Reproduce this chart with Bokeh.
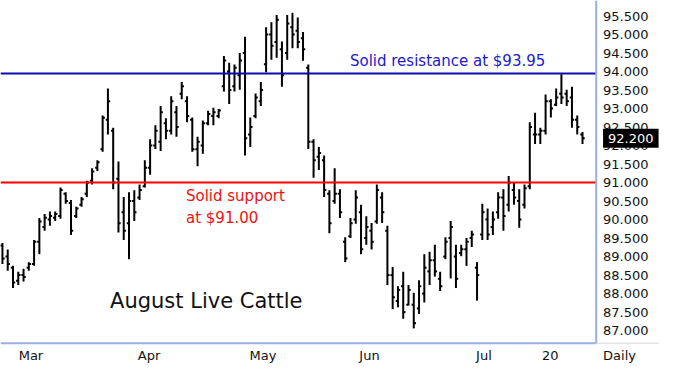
from bokeh.plotting import figure
from bokeh.models import Label, Range1d, ColumnDataSource
from bokeh.core.properties import value
from bokeh.embed import file_html
from bokeh.resources import INLINE
import numpy as np

# ---- data (August Live Cattle, daily OHLC) ----
opens = [89.30, 89.00, 88.70, 88.35, 88.50, 88.70, 88.80, 89.40, 89.80, 90.00,
         90.05, 90.10, 90.70, 90.45, 90.10, 90.40, 90.70, 91.05, 91.40, 91.90,
         92.70, 92.40, 91.10, 90.20, 89.90, 90.50, 90.60, 90.90, 91.40, 92.00,
         92.10, 92.60, 92.40, 92.90, 93.40, 93.20, 92.70, 91.90, 92.00, 92.60,
         92.80, 92.80, 93.60, 94.00, 93.60, 93.90, 94.50, 92.30, 92.80, 93.20,
         94.20, 95.00, 94.80, 94.60, 94.50, 95.20, 95.10, 94.90, 94.10, 92.10,
         91.70, 91.60, 90.70, 90.50, 90.70, 89.40, 89.55, 90.00, 90.20, 89.50,
         89.70, 89.95, 90.60, 89.70, 88.50, 87.80, 88.20, 87.70, 87.70, 87.60,
         88.00, 88.60, 88.90, 88.40, 89.00, 89.50, 89.00, 89.10, 89.20, 89.50,
         88.70, 89.60, 90.00, 89.80, 90.20, 90.60, 90.40, 90.80, 90.50, 90.40,
         90.90, 92.30, 92.30, 92.40, 93.20, 93.10, 93.40, 93.40, 93.30, 92.70,
         92.30]
highs = [89.37, 89.19, 88.75, 88.59, 88.67, 88.85, 89.45, 90.04, 90.15, 90.22,
         90.22, 90.87, 90.74, 90.53, 90.35, 90.61, 91.05, 91.39, 91.60, 92.81,
         93.54, 92.48, 91.57, 90.61, 90.74, 90.79, 90.95, 91.60, 92.17, 92.55,
         93.07, 92.74, 93.33, 93.07, 93.72, 93.33, 92.76, 92.24, 92.68, 92.94,
         93.02, 92.99, 94.42, 94.24, 94.19, 94.50, 94.94, 92.76, 93.41, 93.72,
         95.20, 95.33, 95.53, 94.81, 95.53, 95.59, 95.46, 95.07, 94.19, 92.17,
         91.96, 91.73, 90.79, 91.39, 90.82, 89.52, 90.04, 90.79, 90.40, 90.09,
         89.91, 90.95, 90.74, 89.83, 88.72, 88.20, 88.59, 88.23, 88.02, 88.36,
         89.06, 89.13, 89.32, 88.59, 89.52, 89.96, 89.32, 89.32, 89.50, 89.70,
         88.85, 90.43, 90.30, 90.22, 90.74, 90.82, 91.18, 91.00, 90.82, 90.95,
         92.63, 92.89, 92.48, 93.38, 93.25, 93.54, 93.93, 93.51, 93.59, 92.81,
         92.37]
lows = [88.80, 88.62, 88.15, 88.23, 88.33, 88.62, 88.75, 89.06, 89.70, 89.83,
        89.96, 90.02, 90.43, 89.58, 90.04, 90.35, 90.61, 90.95, 91.31, 91.83,
        92.30, 90.82, 89.65, 89.45, 88.93, 89.96, 90.53, 90.87, 91.21, 91.91,
        91.85, 92.17, 92.30, 92.24, 93.25, 92.63, 91.83, 91.44, 91.78, 92.55,
        92.55, 92.74, 93.46, 93.12, 93.46, 93.51, 91.73, 91.96, 92.74, 93.07,
        93.98, 94.32, 94.37, 93.59, 94.32, 94.63, 94.63, 94.29, 91.91, 91.13,
        91.34, 90.61, 89.63, 90.43, 90.04, 88.85, 89.50, 89.89, 89.06, 89.32,
        89.19, 89.89, 89.91, 88.23, 87.58, 87.63, 87.32, 87.68, 87.06, 87.45,
        87.76, 88.23, 88.46, 88.07, 88.93, 88.41, 88.15, 89.01, 88.75, 89.26,
        87.81, 89.45, 89.45, 89.58, 90.02, 89.70, 90.22, 90.40, 89.78, 90.30,
        90.82, 92.04, 92.04, 92.30, 92.76, 93.07, 93.12, 93.07, 92.48, 92.30,
        92.04]
closes = [88.95, 88.80, 88.30, 88.50, 88.45, 88.80, 89.40, 89.95, 90.05, 90.10,
          90.15, 90.80, 90.50, 89.70, 90.30, 90.55, 91.00, 91.30, 91.55, 92.75,
          93.20, 91.00, 89.90, 89.70, 90.50, 90.20, 90.80, 91.40, 92.00, 92.40,
          92.90, 92.40, 93.20, 92.50, 93.60, 92.80, 91.90, 92.10, 92.60, 92.85,
          92.90, 92.95, 94.30, 93.50, 94.10, 94.30, 92.20, 92.50, 93.30, 93.50,
          95.00, 94.70, 95.40, 93.90, 95.30, 95.00, 94.80, 94.60, 92.10, 91.60,
          91.80, 90.80, 89.90, 90.70, 90.20, 88.95, 89.90, 90.60, 89.20, 89.80,
          89.40, 90.80, 90.20, 88.50, 87.90, 88.10, 87.50, 88.10, 87.20, 88.20,
          88.70, 88.90, 88.60, 88.20, 89.40, 89.80, 88.40, 89.20, 89.40, 89.60,
          88.50, 90.20, 89.60, 90.00, 90.60, 90.10, 91.00, 90.60, 90.00, 90.85,
          92.50, 92.30, 92.40, 93.20, 93.00, 93.30, 93.30, 93.20, 92.70, 92.50,
          92.20]

month_ticks = [5.4, 27.8, 49.4, 69.6, 91.3, 103.9]
month_labels = ["Mar", "Apr", "May", "Jun", "Jul", "20"]
price_ticks = [87.0, 87.5, 88.0, 88.5, 89.0, 89.5, 90.0, 90.5, 91.0, 91.5,
               92.0, 92.5, 93.0, 93.5, 94.0, 94.5, 95.0, 95.5]
resistance = 93.95
support = 91.00
last_price = 92.20
period_label = "Daily"

FONT = "DejaVu Sans"
AXIS_BLUE = "#9aaee6"
TEXT = "#111111"

# layout constants (x in bar-index units, y in price units)
X_LO, X_HI = -0.37, 124.6      # whole canvas incl. price scale area
AXIS_X = 112.6                 # price-scale line
LABEL_X = 113.9                # left edge of price labels
Y_LO, Y_HI = 86.03, 95.92      # whole canvas incl. date strip
AXIS_Y = 86.66                 # date-scale line
DATE_Y = 86.34                 # date label centre

x = np.arange(len(opens))
src = ColumnDataSource(dict(x=x, xl=x - 0.42, xr=x + 0.42,
                            o=opens, h=highs, l=lows, c=closes))

p = figure(width=659, height=366,
           x_range=Range1d(X_LO, X_HI), y_range=Range1d(Y_LO, Y_HI),
           output_backend="svg", toolbar_location=None,
           min_border=0, x_axis_location=None, y_axis_location=None)
p.background_fill_color = "white"
p.border_fill_color = "white"
p.outline_line_color = None
p.xgrid.visible = False
p.ygrid.visible = False

# OHLC bars
p.segment("x", "l", "x", "h", source=src, line_color="black", line_width=2)
p.segment("xl", "o", "x", "o", source=src, line_color="black", line_width=2)
p.segment("x", "c", "xr", "c", source=src, line_color="black", line_width=2)

# support / resistance lines (end at price scale)
p.segment(x0=[X_LO], y0=[resistance], x1=[AXIS_X], y1=[resistance],
          line_color="#0a0ab4", line_width=2)
p.segment(x0=[X_LO], y0=[support], x1=[AXIS_X], y1=[support],
          line_color="#ff0000", line_width=2)

# scale lines
p.segment(x0=[AXIS_X], y0=[AXIS_Y], x1=[AXIS_X], y1=[Y_HI], line_color=AXIS_BLUE, line_width=2)
p.segment(x0=[X_LO], y0=[AXIS_Y], x1=[AXIS_X], y1=[AXIS_Y], line_color=AXIS_BLUE, line_width=2)
p.segment(x0=[AXIS_X], y0=[AXIS_Y], x1=[X_HI], y1=[AXIS_Y], line_color="#d6d6d6", line_width=1)

# price scale labels
p.text(x=[LABEL_X] * len(price_ticks), y=price_ticks,
       text=[f"{v:.3f}" for v in price_ticks],
       text_font=value(FONT), text_font_size="13px", text_color=TEXT,
       text_baseline="middle", text_align="left")

# date labels
p.text(x=month_ticks, y=[DATE_Y] * len(month_ticks), text=month_labels,
       text_font=value(FONT), text_font_size="13px", text_color=TEXT,
       text_baseline="middle", text_align="center")
p.add_layout(Label(x=LABEL_X, y=DATE_Y, text=period_label, text_color=TEXT,
                   text_font=FONT, text_font_size="13px", text_baseline="middle"))

# annotations
p.add_layout(Label(x=65.9, y=94.29, text="Solid resistance at $93.95", text_color="#1a1acc",
                   text_font=FONT, text_font_size="15px", text_baseline="middle"))
p.add_layout(Label(x=34.8, y=90.64, text="Solid support", text_color="#ee1111",
                   text_font=FONT, text_font_size="15px", text_baseline="middle"))
p.add_layout(Label(x=34.8, y=90.04, text="at $91.00", text_color="#ee1111",
                   text_font=FONT, text_font_size="15px", text_baseline="middle"))
p.add_layout(Label(x=20.4, y=87.81, text="August Live Cattle", text_color=TEXT,
                   text_font=FONT, text_font_size="21px", text_baseline="middle"))

# last price box
p.add_layout(Label(x=LABEL_X, y=last_price, text=f"{last_price:.3f}", text_color="white",
                   text_font=FONT, text_font_size="13px", text_baseline="middle",
                   background_fill_color="black", padding=5))

open("out.html", "w").write(file_html(p, INLINE))
